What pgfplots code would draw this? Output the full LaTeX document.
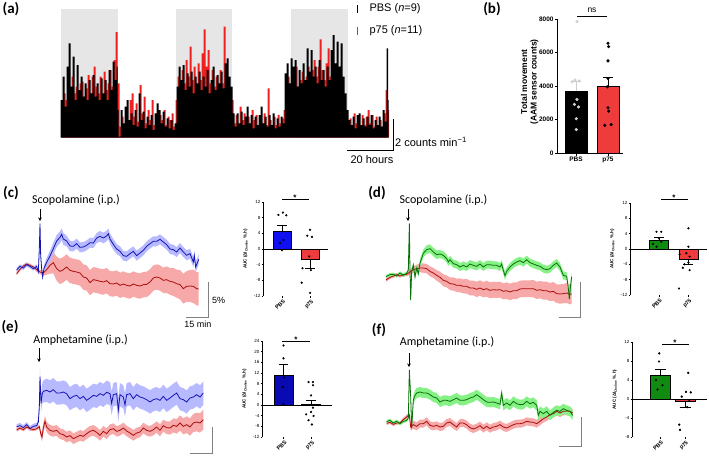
\documentclass[border=0pt]{standalone}
\usepackage{fontspec}
\setmainfont{Liberation Sans}
\newfontfamily\calfont{Carlito}
\usepackage{pgfplots}
\pgfplotsset{compat=1.18}
\usepackage{pgfplotstable}
\usetikzlibrary{arrows.meta}
\definecolor{darkshade}{HTML}{E6E6E6}
\definecolor{spikered}{HTML}{F02020}
\definecolor{bline}{HTML}{1414B4}
\definecolor{bband}{HTML}{B8BAFF}
\definecolor{rline}{HTML}{A80E0E}
\definecolor{rband}{HTML}{F7A8A8}
\definecolor{gline}{HTML}{0A6E0A}
\definecolor{gband}{HTML}{86F286}
\definecolor{barblue}{HTML}{1010F0}
\definecolor{bardblue}{HTML}{0A0AB4}
\definecolor{barred}{HTML}{EE3B3B}
\definecolor{bargreen}{HTML}{108A10}
\definecolor{dotgray}{HTML}{CFCFCF}
\definecolor{scalegray}{HTML}{808080}

\pgfplotsset{
  px/.style={scale only axis, hide axis, clip=false, y dir=reverse, anchor=north west},
  pc/.style={px, at={(10pt,251pt)}, width=210pt, height=120pt, xmin=0, xmax=630, ymin=0, ymax=360},
  pd/.style={px, at={(380pt,251pt)}, width=210pt, height=120pt, xmin=0, xmax=630, ymin=0, ymax=360},
  pe/.style={px, at={(10pt,116pt)}, width=210pt, height=116pt, xmin=0, xmax=630, ymin=0, ymax=348},
  pf/.style={px, at={(380pt,116pt)}, width=210pt, height=116pt, xmin=0, xmax=630, ymin=0, ymax=348},
  mini/.style={scale only axis, anchor=south west, clip=false,
    axis lines=left, axis line style={-, line width=0.6pt}, x axis line style={draw=none},
    tick align=outside, major tick length=1.5pt, tick style={black, line width=0.5pt},
    xtick={0,1}, xticklabels={PBS,p75},
    xticklabel style={rotate=45, anchor=north east, font=\fontsize{5.5}{6}\selectfont\bfseries, inner sep=0.5pt, yshift=-1pt},
    yticklabel style={font=\fontsize{4.5}{5}\selectfont, inner sep=1pt},
    /pgf/number format/assume math mode=true,
    ylabel={AUC (ΔI\textsubscript{Choline} \%.h)},
    ylabel style={font=\fontsize{4.5}{5}\selectfont\bfseries, at={(axis description cs:#1,0.5)}, anchor=center}},
}

% ---- traces: X Y E (local units, y downwards) ----
\pgfplotstableread[row sep=\\]{X Y E\\
20 195 6\\ 30 184 6\\ 40 189 6\\ 50 179 6\\ 60 184 6\\ 70 191 6\\ 80 184 6\\ 85 201 6\\ 88 130 8\\ 90 56 8\\ 92 150 8\\ 95 192 8\\ 98 216 8\\ 102 190 10\\ 110 172 14\\ 120 153 16\\ 130 131 18\\ 140 108 18\\ 150 97 18\\ 155 88 18\\ 160 102 18\\ 170 108 16\\ 180 123 16\\ 190 124 15\\ 200 116 15\\ 210 127 15\\ 220 126 15\\ 230 121 15\\ 240 113 15\\ 250 114 15\\ 260 99 15\\ 270 94 16\\ 280 99 16\\ 290 93 16\\ 295 86 16\\ 300 102 16\\ 310 118 16\\ 320 132 15\\ 330 139 15\\ 340 152 15\\ 350 154 15\\ 360 146 15\\ 370 139 15\\ 380 152 15\\ 390 144 15\\ 400 136 15\\ 410 124 15\\ 420 116 15\\ 430 109 15\\ 440 109 15\\ 450 103 15\\ 460 111 15\\ 470 119 15\\ 480 132 15\\ 490 134 15\\ 500 141 15\\ 510 129 15\\ 520 141 15\\ 530 151 15\\ 540 146 15\\ 550 171 15\\ 553 152 15\\ 557 186 15\\ 562 174 15\\ 566 163 15\\
}\tcb
\pgfplotstableread[row sep=\\]{X Y E\\
20 206 5\\ 30 193 5\\ 40 183 5\\ 50 177 5\\ 60 181 5\\ 70 186 5\\ 80 194 6\\ 90 201 6\\ 100 204 8\\ 110 194 15\\ 120 181 25\\ 130 173 32\\ 140 191 36\\ 150 199 38\\ 160 194 38\\ 170 186 38\\ 180 196 38\\ 190 199 38\\ 200 201 38\\ 210 204 38\\ 220 216 38\\ 230 219 38\\ 240 233 38\\ 250 224 38\\ 260 226 38\\ 270 229 38\\ 280 231 38\\ 290 227 38\\ 300 236 38\\ 310 237 38\\ 320 234 38\\ 330 241 38\\ 340 237 38\\ 350 241 38\\ 360 243 38\\ 370 237 38\\ 380 241 38\\ 390 243 38\\ 400 239 38\\ 410 238 38\\ 420 231 38\\ 430 219 38\\ 440 216 38\\ 450 219 38\\ 460 226 38\\ 470 224 40\\ 480 229 40\\ 490 231 42\\ 500 236 42\\ 510 239 44\\ 520 251 45\\ 530 244 46\\ 540 243 48\\ 550 244 50\\ 560 251 50\\ 566 252 50\\
}\tcr
\pgfplotstableread[row sep=\\]{X Y E\\
18 215 5\\ 30 209 5\\ 40 208 5\\ 50 213 5\\ 60 204 5\\ 70 211 5\\ 80 205 5\\ 85 195 6\\ 88 55 6\\ 90 200 6\\ 92 285 6\\ 95 200 8\\ 100 180 8\\ 105 216 8\\ 110 189 10\\ 115 206 10\\ 120 174 12\\ 125 160 12\\ 130 145 12\\ 140 134 13\\ 150 131 13\\ 160 141 13\\ 170 149 13\\ 180 147 12\\ 190 151 12\\ 200 161 12\\ 205 171 12\\ 210 164 12\\ 220 176 12\\ 230 179 12\\ 240 186 12\\ 250 181 12\\ 260 186 12\\ 270 177 12\\ 280 181 12\\ 290 184 12\\ 300 177 12\\ 310 186 12\\ 320 179 12\\ 330 179 12\\ 340 181 12\\ 350 181 12\\ 360 186 12\\ 365 177 12\\ 370 196 12\\ 375 212 12\\ 380 199 12\\ 390 186 12\\ 400 177 12\\ 410 171 12\\ 420 167 12\\ 430 173 12\\ 440 164 12\\ 450 173 12\\ 460 177 12\\ 470 181 12\\ 480 184 12\\ 490 191 12\\ 500 194 12\\ 510 191 12\\ 520 181 12\\ 530 174 12\\ 540 186 12\\ 545 199 12\\ 550 211 12\\ 560 214 12\\ 565 250 12\\ 568 282 12\\ 572 240 12\\ 575 215 12\\
}\tdg
\pgfplotstableread[row sep=\\]{X Y E\\
18 225 5\\ 30 217 5\\ 40 213 5\\ 50 209 5\\ 60 213 5\\ 70 209 5\\ 80 208 6\\ 90 201 8\\ 100 194 10\\ 110 191 12\\ 120 189 13\\ 130 189 14\\ 140 191 14\\ 150 199 15\\ 160 204 15\\ 170 211 16\\ 180 217 17\\ 190 226 18\\ 200 229 18\\ 210 236 19\\ 220 237 20\\ 230 241 20\\ 240 241 21\\ 250 244 21\\ 260 244 22\\ 270 249 22\\ 280 249 22\\ 290 253 23\\ 300 249 23\\ 310 254 23\\ 320 251 24\\ 330 256 24\\ 340 254 24\\ 350 255 24\\ 360 254 24\\ 370 259 24\\ 380 257 25\\ 390 261 25\\ 400 257 25\\ 410 257 25\\ 420 252 25\\ 430 251 25\\ 440 251 25\\ 450 251 25\\ 460 251 26\\ 470 256 26\\ 480 254 26\\ 490 257 27\\ 500 257 27\\ 510 261 27\\ 520 259 28\\ 530 266 28\\ 540 267 29\\ 550 266 29\\ 560 264 30\\ 570 268 30\\ 575 267 30\\
}\tdr
\pgfplotstableread[row sep=\\]{X Y E\\
20 260 8\\ 30 257 8\\ 40 263 8\\ 50 254 8\\ 60 266 8\\ 70 259 8\\ 80 257 8\\ 85 246 10\\ 88 200 15\\ 90 110 20\\ 93 190 25\\ 97 160 30\\ 100 154 33\\ 110 151 35\\ 120 156 35\\ 130 149 35\\ 140 159 35\\ 150 159 35\\ 160 156 35\\ 170 161 35\\ 180 176 35\\ 190 169 35\\ 200 166 35\\ 210 176 35\\ 220 169 35\\ 230 181 35\\ 240 174 35\\ 250 166 35\\ 260 169 35\\ 270 161 35\\ 280 166 35\\ 290 157 35\\ 300 161 35\\ 305 190 35\\ 310 164 35\\ 320 161 35\\ 325 210 35\\ 330 164 35\\ 340 171 35\\ 345 195 35\\ 350 164 35\\ 360 161 35\\ 370 176 35\\ 380 164 35\\ 390 171 35\\ 400 174 35\\ 410 179 35\\ 420 186 35\\ 430 179 35\\ 440 176 35\\ 450 181 35\\ 460 169 35\\ 470 181 35\\ 480 174 35\\ 490 166 35\\ 500 159 35\\ 510 176 35\\ 520 179 35\\ 530 186 35\\ 540 174 35\\ 550 171 35\\ 560 164 35\\ 570 171 35\\ 580 159 35\\
}\teb
\pgfplotstableread[row sep=\\]{X Y E\\
20 270 5\\ 30 264 5\\ 40 269 5\\ 50 261 5\\ 60 266 5\\ 70 269 5\\ 80 266 5\\ 88 260 6\\ 92 280 10\\ 96 291 14\\ 100 264 16\\ 105 244 16\\ 110 261 16\\ 120 271 16\\ 130 274 16\\ 140 271 16\\ 150 281 16\\ 160 284 16\\ 170 291 16\\ 180 287 16\\ 190 296 16\\ 200 291 16\\ 210 286 16\\ 220 289 16\\ 230 281 16\\ 240 274 16\\ 250 271 16\\ 260 277 16\\ 270 286 16\\ 280 274 16\\ 290 281 16\\ 300 269 16\\ 310 266 16\\ 320 274 16\\ 330 271 16\\ 340 264 16\\ 350 273 16\\ 360 279 16\\ 370 286 16\\ 380 279 16\\ 390 276 16\\ 400 264 16\\ 410 271 16\\ 420 274 16\\ 430 269 17\\ 440 261 17\\ 450 271 18\\ 460 257 18\\ 470 263 19\\ 480 264 20\\ 490 256 21\\ 500 259 22\\ 510 249 23\\ 520 259 24\\ 530 254 25\\ 540 261 26\\ 550 249 27\\ 560 246 28\\ 570 249 29\\ 580 239 30\\
}\ter
\pgfplotstableread[row sep=\\]{X Y E\\
20 245 5\\ 30 241 5\\ 40 249 5\\ 50 244 5\\ 60 251 5\\ 70 244 5\\ 80 241 5\\ 85 234 6\\ 88 90 8\\ 92 170 10\\ 95 265 12\\ 100 180 14\\ 105 166 15\\ 110 159 15\\ 120 156 15\\ 130 159 15\\ 140 159 15\\ 150 164 15\\ 160 171 15\\ 170 174 15\\ 180 186 15\\ 190 181 15\\ 200 181 15\\ 210 184 15\\ 220 179 15\\ 230 174 15\\ 240 181 15\\ 250 181 15\\ 260 179 15\\ 270 174 15\\ 280 171 15\\ 290 164 15\\ 300 171 15\\ 310 179 15\\ 320 186 15\\ 330 187 15\\ 340 186 15\\ 350 189 15\\ 360 193 15\\ 365 160 15\\ 370 196 15\\ 380 189 15\\ 390 196 15\\ 400 184 15\\ 410 191 15\\ 420 194 15\\ 430 193 15\\ 440 184 15\\ 450 191 15\\ 460 187 15\\ 470 196 15\\ 475 226 15\\ 480 214 15\\ 490 221 15\\ 500 214 15\\ 510 226 15\\ 520 217 15\\ 530 211 15\\ 540 214 15\\ 550 206 15\\ 560 211 15\\ 570 214 15\\ 578 226 15\\
}\tfg
\pgfplotstableread[row sep=\\]{X Y E\\
20 250 5\\ 30 247 5\\ 40 253 5\\ 50 249 5\\ 60 249 5\\ 70 239 6\\ 80 231 7\\ 88 224 8\\ 92 261 10\\ 100 254 12\\ 110 259 12\\ 120 251 12\\ 130 251 12\\ 140 244 12\\ 150 256 12\\ 160 259 12\\ 170 256 12\\ 180 261 12\\ 190 259 12\\ 200 249 12\\ 210 246 12\\ 220 254 12\\ 230 261 12\\ 240 249 12\\ 250 249 12\\ 260 254 12\\ 270 263 12\\ 280 267 12\\ 290 263 12\\ 300 257 12\\ 310 266 12\\ 320 259 12\\ 330 266 12\\ 340 261 12\\ 350 259 12\\ 360 254 12\\ 370 261 12\\ 380 264 12\\ 390 259 12\\ 400 254 12\\ 410 251 12\\ 420 251 12\\ 430 249 12\\ 440 244 12\\ 450 246 12\\ 460 247 12\\ 470 251 12\\ 480 244 12\\ 490 236 12\\ 500 231 12\\ 510 224 12\\ 520 221 12\\ 530 214 12\\ 540 219 12\\ 550 214 12\\ 560 213 12\\ 570 214 12\\ 578 219 12\\
}\tfr

% shaded band (mean +- E) as a stacked area in its own axis: style, table, colour
\newcommand{\bandaxis}[3]{%
  \begin{axis}[#1, stack plots=y]
  \addplot[draw=none, mark=none] table[x=X, y expr=\thisrow{Y}-\thisrow{E}] {#2};
  \addplot[fill=#3, draw=none, mark=none] table[x=X, y expr=2*\thisrow{E}] {#2} \closedcycle;
  \end{axis}}

\begin{document}
\begin{tikzpicture}
\path[use as bounding box] (0pt,0pt) rectangle (709pt,456pt);

% ================= (a) activity (Y read downwards from top; baseline at 413) =================
\begin{axis}[scale only axis, hide axis, clip=false, anchor=south west, at={(0pt,318.3pt)},
  width=420pt, height=137.7pt, xmin=0, xmax=1260, ymin=0, ymax=413, y filter/.expression={413-y}]
\fill[darkshade] (182,0) rectangle (353,386);
\fill[darkshade] (527,0) rectangle (697,386);
\fill[darkshade] (873,0) rectangle (1043,386);
\addplot[const plot, fill=spikered, draw=none, mark=none] coordinates {(185,413)(185,330)(191,280)(197,300)(203,250)(209,290)(215,230)(221,280)(227,260)(233,300)(239,250)(245,245)(251,290)(257,265)(263,225)(269,280)(275,230)(281,200)(287,260)(293,280)(299,230)(305,290)(311,215)(317,270)(323,250)(329,210)(335,260)(341,180)(347,96)(353,250)(359,380)(365,350)(371,385)(377,340)(383,360)(389,300)(395,280)(401,350)(407,310)(413,365)(419,255)(425,340)(431,290)(437,370)(443,330)(449,360)(455,300)(461,375)(467,340)(473,380)(479,345)(485,360)(491,330)(497,375)(503,350)(509,360)(515,340)(521,380)(527,300)(533,230)(539,260)(545,210)(551,250)(557,180)(563,230)(569,140)(575,240)(581,200)(587,255)(593,190)(599,240)(605,160)(611,88)(617,200)(623,150)(629,250)(635,210)(641,260)(647,230)(653,270)(659,210)(665,250)(671,80)(677,200)(683,240)(689,270)(695,300)(701,370)(707,345)(713,380)(719,320)(725,360)(731,340)(737,375)(743,350)(749,370)(755,330)(761,360)(767,345)(773,380)(779,355)(785,370)(791,340)(797,375)(803,265)(809,360)(815,380)(821,350)(827,375)(833,345)(839,370)(845,355)(851,330)(857,250)(863,230)(869,260)(875,210)(881,250)(887,200)(893,260)(899,240)(905,215)(911,260)(917,230)(923,200)(929,250)(935,210)(941,180)(947,230)(953,200)(959,118)(965,210)(971,240)(977,190)(983,145)(989,230)(995,200)(1001,250)(1007,190)(1013,220)(1019,200)(1025,250)(1031,300)(1037,350)(1043,370)(1049,355)(1055,380)(1061,340)(1067,370)(1073,350)(1079,380)(1085,345)(1091,375)(1097,350)(1103,330)(1109,370)(1115,345)(1121,380)(1127,350)(1133,375)(1139,360)(1145,380)(1151,340)(1157,270)(1163,330)(1167,330)(1167,413)};
\addplot[const plot, fill=black, draw=none, mark=none] coordinates {(182,413)(182,300)(188,230)(194,320)(200,200)(206,130)(212,260)(218,170)(224,300)(230,195)(236,270)(242,230)(248,290)(254,250)(260,300)(266,240)(272,280)(278,225)(284,290)(290,250)(296,300)(302,235)(308,280)(314,240)(320,300)(326,210)(332,270)(338,185)(344,240)(350,200)(353,330)(356,410)(362,330)(368,370)(374,320)(380,300)(386,360)(392,340)(398,375)(404,330)(410,380)(416,280)(422,360)(428,335)(434,385)(440,350)(446,375)(452,345)(458,390)(464,340)(470,310)(476,330)(482,370)(488,335)(494,380)(500,355)(506,385)(512,360)(518,390)(524,370)(530,260)(536,200)(542,240)(548,195)(554,270)(560,220)(566,260)(572,215)(578,280)(584,230)(590,250)(596,215)(602,270)(608,230)(614,260)(620,210)(626,280)(632,240)(638,200)(644,270)(650,225)(656,250)(662,215)(668,265)(674,190)(680,175)(686,230)(692,260)(698,340)(704,380)(710,340)(716,370)(722,335)(728,375)(734,350)(740,320)(746,370)(752,345)(758,385)(764,350)(770,375)(776,345)(782,320)(788,370)(794,350)(800,380)(806,345)(812,375)(818,340)(824,385)(830,355)(836,380)(842,350)(848,370)(854,220)(860,190)(866,250)(872,175)(878,200)(884,180)(890,260)(896,210)(902,250)(908,190)(914,240)(920,145)(926,215)(932,150)(938,230)(944,200)(950,250)(956,180)(962,240)(968,210)(974,260)(980,200)(986,240)(992,150)(998,105)(1004,190)(1010,125)(1016,200)(1022,130)(1028,230)(1034,280)(1040,330)(1046,360)(1052,375)(1058,350)(1064,385)(1070,345)(1076,340)(1082,375)(1088,355)(1094,380)(1100,350)(1106,375)(1112,345)(1118,385)(1124,360)(1130,375)(1136,350)(1142,380)(1148,330)(1154,365)(1160,145)(1164,300)(1166,300)(1166,413)};
\end{axis}

% ================= traces (c)-(f): bands then lines =================
\bandaxis{pc}{\tcr}{rband}
\bandaxis{pc}{\tcb}{bband}
\begin{axis}[pc]
\addplot[rline, line width=0.8pt, mark=none] table[x=X,y=Y] {\tcr};
\addplot[bline, line width=0.8pt, mark=none] table[x=X,y=Y] {\tcb};
\end{axis}
\bandaxis{pd}{\tdr}{rband}
\bandaxis{pd}{\tdg}{gband}
\begin{axis}[pd]
\addplot[rline, line width=0.8pt, mark=none] table[x=X,y=Y] {\tdr};
\addplot[gline, line width=0.8pt, mark=none] table[x=X,y=Y] {\tdg};
\end{axis}
\bandaxis{pe}{\teb}{bband}
\bandaxis{pe}{\ter}{rband}
\begin{axis}[pe]
\addplot[rline, line width=0.8pt, mark=none] table[x=X,y=Y] {\ter};
\addplot[bline, line width=0.8pt, mark=none] table[x=X,y=Y] {\teb};
\end{axis}
\bandaxis{pf}{\tfr}{rband}
\bandaxis{pf}{\tfg}{gband}
\begin{axis}[pf]
\addplot[rline, line width=0.8pt, mark=none] table[x=X,y=Y] {\tfr};
\addplot[gline, line width=0.8pt, mark=none] table[x=X,y=Y] {\tfg};
\end{axis}

% ================= (b) bar chart =================
\begin{axis}[at={(557.7pt,303pt)}, anchor=south west, scale only axis, width=65.3pt, height=134pt,
  xmin=-0.572, xmax=1.47, ymin=0, ymax=8000, axis lines=left, axis line style={-, line width=0.8pt},
  tick align=outside, major tick length=2.5pt, tick style={black, line width=0.7pt},
  ytick={0,2000,4000,6000,8000}, yticklabels={0,2000,4000,6000,8000},
  xtick={0,1}, xticklabels={PBS,p75},
  ticklabel style={font=\fontsize{6.5}{7}\selectfont\bfseries, inner sep=1.5pt},
  ylabel={Total movement\\(AAM sensor counts)},
  ylabel style={align=center, font=\fontsize{8.5}{9.5}\selectfont\bfseries, at={(axis description cs:-0.43,0.53)}, anchor=center},
  clip=false]
\addplot[ybar, bar shift=0pt, bar width=0.68, fill=black, draw=black, line width=0.6pt] coordinates {(0,3700)};
\addplot[ybar, bar shift=0pt, bar width=0.68, fill=barred, draw=black, line width=0.6pt] coordinates {(1,4000)};
\addplot[dotgray, line width=0.7pt, mark=none] coordinates {(0,3700)(0,4300)};
\addplot[dotgray, line width=0.7pt, mark=none] coordinates {(-0.17,4300)(0.17,4300)};
\addplot[black, line width=0.7pt, mark=none] coordinates {(1,4000)(1,4500)};
\addplot[black, line width=0.7pt, mark=none] coordinates {(0.83,4500)(1.17,4500)};
\addplot[only marks, mark=*, mark size=1.4pt, dotgray, mark options={draw=none}] coordinates {(0.03,7850)(-0.03,4350)(0.1,4300)(-0.12,4250)(0.03,3200)(-0.05,2900)(0.08,2750)(0.01,2050)(0.01,1400)};
\addplot[only marks, mark=*, mark size=1.4pt, black] coordinates {(1,6550)(1.02,6350)(1,5500)(1,4450)(0.98,3950)(1,2700)(1.02,2500)(0.9,1650)(1.1,1700)};
\end{axis}

% ================= (c) mini =================
\begin{axis}[mini=-0.27, at={(263pt,160pt)}, width=65pt, height=94pt, xmin=-0.68, xmax=1.64, ymin=-12, ymax=12, ytick={-12,-8,...,12}]
\addplot[ybar, bar shift=0pt, bar width=0.64, fill=barblue, draw=black, line width=0.4pt] coordinates {(0,4.6)};
\addplot[ybar, bar shift=0pt, bar width=0.64, fill=barred, draw=black, line width=0.4pt] coordinates {(1,-2.7)};
\addplot[black, line width=0.5pt, mark=none] coordinates {(0,4.6)(0,6.0)};
\addplot[black, line width=0.5pt, mark=none] coordinates {(-0.17,6.0)(0.17,6.0)};
\addplot[black, line width=0.5pt, mark=none] coordinates {(1,-2.7)(1,-4.8)};
\addplot[black, line width=0.5pt, mark=none] coordinates {(0.83,-4.8)(1.17,-4.8)};
\addplot[black, line width=0.6pt, mark=none] coordinates {(-0.68,0)(1.64,0)};
\addplot[only marks, mark=*, mark size=0.9pt, black] coordinates {(-0.13,8.7)(0.03,9.3)(0.15,8.6)(0.05,2.3)(-0.07,1.5)(0,-0.3)};
\addplot[only marks, mark=*, mark size=0.9pt, black] coordinates {(1,4.9)(0.9,3.4)(1.07,3.1)(0.97,-1.9)(0.73,-4.9)(1.03,-5.4)(0.7,-8.6)(1,-11.2)};
\end{axis}
% ================= (d) mini =================
\begin{axis}[mini=-0.23, at={(630pt,161pt)}, width=77pt, height=92pt, xmin=-0.98, xmax=1.63, ymin=-12, ymax=12, ytick={-12,-8,...,12}]
\addplot[ybar, bar shift=0pt, bar width=0.63, fill=bargreen, draw=black, line width=0.4pt] coordinates {(0,2.2)};
\addplot[ybar, bar shift=0pt, bar width=0.63, fill=barred, draw=black, line width=0.4pt] coordinates {(1,-2.7)};
\addplot[black, line width=0.5pt, mark=none] coordinates {(0,2.2)(0,3.0)};
\addplot[black, line width=0.5pt, mark=none] coordinates {(-0.17,3.0)(0.17,3.0)};
\addplot[black, line width=0.5pt, mark=none] coordinates {(1,-2.7)(1,-3.9)};
\addplot[black, line width=0.5pt, mark=none] coordinates {(0.83,-3.9)(1.17,-3.9)};
\addplot[black, line width=0.6pt, mark=none] coordinates {(-0.98,0)(1.63,0)};
\addplot[only marks, mark=*, mark size=0.9pt, black] coordinates {(-0.08,4.5)(0.08,4.5)(0,2.8)(-0.2,1.3)(-0.08,0.6)(0.08,1.9)};
\addplot[only marks, mark=*, mark size=0.9pt, black] coordinates {(1,5.4)(1,0.6)(0.93,-1.1)(0.7,-1.4)(1.04,-2.0)(0.87,-4.0)(1,-3.5)(0.81,-4.9)(1.04,-5.5)(0.68,-10.3)};
\end{axis}
% ================= (e) mini =================
\begin{axis}[mini=-0.25, at={(262pt,19pt)}, width=70pt, height=96pt, xmin=-0.78, xmax=1.76, ymin=-12, ymax=24, ytick={-12,-8,...,24}]
\addplot[ybar, bar shift=0pt, bar width=0.69, fill=bardblue, draw=black, line width=0.4pt] coordinates {(0,11.2)};
\addplot[ybar, bar shift=0pt, bar width=0.69, fill=barred, draw=black, line width=0.4pt] coordinates {(1,0.3)};
\addplot[black, line width=0.5pt, mark=none] coordinates {(0,11.2)(0,15.3)};
\addplot[black, line width=0.5pt, mark=none] coordinates {(-0.18,15.3)(0.18,15.3)};
\addplot[black, line width=0.5pt, mark=none] coordinates {(1,0.3)(1,1.8)};
\addplot[black, line width=0.5pt, mark=none] coordinates {(0.82,1.8)(1.18,1.8)};
\addplot[black, line width=0.6pt, mark=none] coordinates {(-0.78,0)(1.76,0)};
\addplot[only marks, mark=*, mark size=0.9pt, black] coordinates {(0,22.3)(0,17.5)(0.02,10.3)(-0.02,6.7)(0,0.3)};
\addplot[only marks, mark=*, mark size=0.9pt, black] coordinates {(1.07,8.6)(0.91,8.6)(1.07,7.4)(1,3.6)(1.07,-1)(1,-2.6)(0.82,-3.5)(1.09,-4.1)(0.91,-5.7)(1.03,-7.3)};
\end{axis}
% ================= (f) mini =================
\begin{axis}[mini=-0.23, at={(632pt,19pt)}, width=75pt, height=95pt, xmin=-1.12, xmax=1.88, ymin=-8, ymax=12, ytick={-8,-4,...,12}]
\addplot[ybar, bar shift=0pt, bar width=0.8, fill=bargreen, draw=black, line width=0.4pt] coordinates {(0,5.0)};
\addplot[ybar, bar shift=0pt, bar width=0.8, fill=barred, draw=black, line width=0.4pt] coordinates {(1,-0.5)};
\addplot[black, line width=0.5pt, mark=none] coordinates {(0,5.0)(0,6.3)};
\addplot[black, line width=0.5pt, mark=none] coordinates {(-0.22,6.3)(0.22,6.3)};
\addplot[black, line width=0.5pt, mark=none] coordinates {(1,-0.5)(1,-1.8)};
\addplot[black, line width=0.5pt, mark=none] coordinates {(0.78,-1.8)(1.22,-1.8)};
\addplot[black, line width=0.6pt, mark=none] coordinates {(-1.12,0)(1.88,0)};
\addplot[only marks, mark=*, mark size=0.9pt, black] coordinates {(-0.03,9.6)(-0.04,7.9)(-0.16,4.0)(0.1,2.9)(-0.1,2.0)};
\addplot[only marks, mark=*, mark size=0.9pt, black] coordinates {(1.13,5.5)(1.04,1.5)(1.23,1.4)(0.87,0.5)(1.17,-0.2)(1.09,-1.7)(0.77,-5.4)(0.8,-6.5)};
\end{axis}

% ================= annotations (pixel frame) =================
\begin{axis}[px, at={(0pt,456pt)}, width=709pt, height=456pt, xmin=0, xmax=709, ymin=0, ymax=456]
\node[font=\calfont\bfseries\fontsize{15}{16}\selectfont] at (11,9) {(a)};
\node[font=\calfont\bfseries\fontsize{15}{16}\selectfont] at (492,9) {(b)};
\node[font=\calfont\bfseries\fontsize{15}{16}\selectfont] at (11,193) {(c)};
\node[font=\calfont\bfseries\fontsize{15}{16}\selectfont] at (377,193) {(d)};
\node[font=\calfont\bfseries\fontsize{15}{16}\selectfont] at (10,327) {(e)};
\node[font=\calfont\bfseries\fontsize{15}{16}\selectfont] at (379,330) {(f)};
\draw[black, line width=0.7pt] (357,5) -- (357,13);
\draw[spikered, line width=0.7pt] (357,27) -- (357,35);
\node[anchor=west, font=\fontsize{11}{12}\selectfont] at (366,9) {PBS (\textit{n}=9)};
\node[anchor=west, font=\fontsize{11}{12}\selectfont] at (366,31) {p75 (\textit{n}=11)};
\draw[black, line width=0.8pt] (393,119) -- (393,150) -- (347,150);
\node[anchor=west, font=\fontsize{11}{12}\selectfont, inner sep=1pt] at (394,142) {2 counts min\textsuperscript{−1}};
\node[font=\fontsize{11}{12}\selectfont] at (372,160) {20 hours};
\node[font=\fontsize{8.5}{9}\selectfont] at (592,10) {ns};
\draw[black, line width=0.8pt] (577,16) -- (607,16);
\node[font=\calfont\fontsize{12}{13}\selectfont] at (76,200) {Scopolamine (i.p.)};
\node[font=\calfont\fontsize{12}{13}\selectfont] at (443.5,200) {Scopolamine (i.p.)};
\node[font=\calfont\fontsize{12}{13}\selectfont] at (80.5,340) {Amphetamine (i.p.)};
\node[font=\calfont\fontsize{12}{13}\selectfont] at (447,342) {Amphetamine (i.p.)};
\draw[line width=0.8pt, -{Stealth[length=3.5pt,width=3.5pt]}] (40,209) -- (40,221);
\draw[line width=0.8pt, -{Stealth[length=3.5pt,width=3.5pt]}] (408,209) -- (408,221);
\draw[line width=0.8pt, -{Stealth[length=3.5pt,width=3.5pt]}] (39,348) -- (39,362);
\draw[line width=0.8pt, -{Stealth[length=3.5pt,width=3.5pt]}] (409,353) -- (409,367);
\draw[scalegray, line width=0.8pt] (208,282) -- (208,317) -- (186,317);
\node[anchor=west, font=\fontsize{9}{10}\selectfont, inner sep=1pt] at (211,300) {5\%};
\node[font=\fontsize{9}{10}\selectfont] at (198,324) {15 min};
\draw[scalegray, line width=0.8pt] (580,282) -- (580,317) -- (559,317);
\draw[scalegray, line width=0.8pt] (212,427) -- (212,453) -- (190,453);
\draw[scalegray, line width=0.8pt] (581,417) -- (581,446) -- (559,446);
\node[font=\fontsize{8}{9}\selectfont\bfseries] at (295,197.5) {*};
\draw[black, line width=0.6pt] (282,199) -- (309,199);
\node[font=\fontsize{8}{9}\selectfont\bfseries] at (674,197.5) {*};
\draw[black, line width=0.6pt] (661,199) -- (688,199);
\node[font=\fontsize{8}{9}\selectfont\bfseries] at (296,339.5) {*};
\draw[black, line width=0.6pt] (282,341) -- (310,341);
\node[font=\fontsize{8}{9}\selectfont\bfseries] at (675,342.5) {*};
\draw[black, line width=0.6pt] (662,344) -- (689,344);
\end{axis}
\end{tikzpicture}
\end{document}
